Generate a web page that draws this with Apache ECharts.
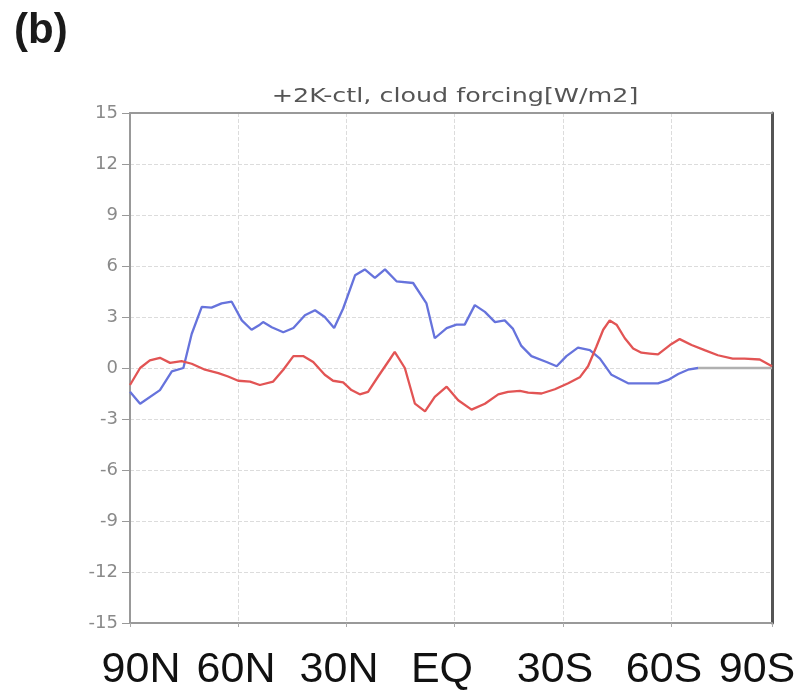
<!DOCTYPE html>
<html>
<head>
<meta charset="utf-8">
<script src="https://cdn.jsdelivr.net/npm/echarts@6/dist/echarts.min.js"></script>
<style>
  html, body { margin: 0; padding: 0; background: #fff; }
  #grafico { width: 795px; height: 692px; }
</style>
</head>
<body>
<div id="grafico"></div>
<script>
// dados (latitude, W/m2)
var latAzul = [90, 87.2, 81.7, 78.4, 75.2, 72.9, 70.1, 67.4, 64.6, 61.8, 59.0, 56.3, 54.0, 53.1, 50.7, 47.5, 44.7, 41.5, 38.7, 36.0, 33.4, 30.9, 27.6, 24.9, 22.1, 19.3, 16.1, 11.5, 7.8, 5.5, 2.2, -0.5, -2.8, -5.6, -8.4, -11.2, -13.9, -16.2, -18.5, -21.3, -25.5, -28.3, -31.0, -34.2, -37.5, -40.3, -43.5, -48.1, -54.1, -56.4, -59.2, -62.0, -64.7, -67.5];
var valAzul = [-1.4, -2.1, -1.3, -0.2, 0.0, 2.0, 3.6, 3.55, 3.8, 3.9, 2.8, 2.25, 2.55, 2.7, 2.4, 2.1, 2.35, 3.1, 3.4, 3.0, 2.35, 3.5, 5.45, 5.8, 5.3, 5.8, 5.1, 5.0, 3.8, 1.75, 2.35, 2.55, 2.55, 3.7, 3.3, 2.7, 2.8, 2.3, 1.3, 0.7, 0.35, 0.1, 0.7, 1.2, 1.05, 0.55, -0.4, -0.9, -0.9, -0.9, -0.7, -0.35, -0.1, 0.0];

var latVermelho = [90, 87.2, 84.5, 81.7, 78.9, 75.7, 72.9, 69.2, 65.5, 62.8, 60.0, 56.7, 54.0, 50.3, 47.5, 44.7, 42.0, 39.2, 36.0, 33.7, 30.9, 28.6, 26.3, 24.0, 21.2, 18.0, 16.6, 13.8, 11.0, 8.2, 5.5, 2.2, -1.0, -4.7, -8.4, -12.1, -14.8, -18.1, -20.4, -24.1, -27.8, -31.5, -34.7, -37.0, -39.3, -41.2, -43.0, -44.9, -47.2, -49.5, -51.8, -54.1, -56.4, -59.7, -62.4, -65.7, -69.3, -73.0, -77.1, -80.4, -84.6, -88];
var valVermelho = [-1.0, 0.0, 0.45, 0.6, 0.3, 0.4, 0.25, -0.1, -0.3, -0.5, -0.75, -0.8, -1.0, -0.8, -0.1, 0.7, 0.7, 0.35, -0.4, -0.75, -0.85, -1.3, -1.55, -1.4, -0.5, 0.5, 0.95, 0.0, -2.1, -2.55, -1.7, -1.1, -1.9, -2.45, -2.1, -1.55, -1.4, -1.35, -1.45, -1.5, -1.25, -0.9, -0.55, 0.1, 1.25, 2.25, 2.8, 2.55, 1.75, 1.15, 0.9, 0.85, 0.8, 1.35, 1.7, 1.35, 1.05, 0.75, 0.55, 0.55, 0.5, 0.1];

// trecho cinza (azul sem dados, zero)
var latCinza = [-67.5, -88];
var valCinza = [0, 0];

var ticksY = [-15, -12, -9, -6, -3, 0, 3, 6, 9, 12, 15];
var rotulosX = ["90N", "60N", "30N", "EQ", "30S", "60S", "90S"];
var centrosRotulos = [141, 236, 339, 442, 555, 664, 757];

function pares(lats, vals) {
    return lats.map((lat, i) => [lat, vals[i]]);
}

var corGrade = "#dcdcdc";

var textosBaixo = rotulosX.map((txt, i) => ({
    type: "text",
    x: centrosRotulos[i],
    y: 670,
    style: {
        text: txt,
        fontSize: 43,
        fontFamily: "Liberation Sans",
        fill: "#111",
        textAlign: "center",
        textVerticalAlign: "middle"
    }
}));

var option = {
    animation: false,
    backgroundColor: "#fff",
    grid: {
        left: 130,
        right: 23,
        top: 113,
        bottom: 69
    },
    xAxis: [
        {
            type: "value",
            inverse: true,
            min: -88,
            max: 90,
            splitNumber: 6,
            axisLine: { show: true, onZero: false, lineStyle: { color: "#999", width: 2 } },
            axisTick: { show: true, length: 4, lineStyle: { color: "#aaa" } },
            axisLabel: { show: false },
            splitLine: { show: true, lineStyle: { color: corGrade, type: "dashed", width: 1 } }
        },
        {
            type: "value",
            position: "top",
            inverse: true,
            min: -88,
            max: 90,
            axisLine: { show: true, onZero: false, lineStyle: { color: "#999", width: 2 } },
            axisTick: { show: false },
            axisLabel: { show: false },
            splitLine: { show: false }
        }
    ],
    yAxis: [
        {
            type: "value",
            min: -15,
            max: 15,
            interval: 3,
            axisLine: { show: true, onZero: false, lineStyle: { color: "#999", width: 2 } },
            axisTick: { show: true, length: 8, lineStyle: { color: "#999" } },
            axisLabel: {
                color: "#8a8a8a",
                fontSize: 18,
                margin: 12,
                fontFamily: "DejaVu Sans",
                formatter: v => ticksY.indexOf(v) >= 0 ? String(v) : ""
            },
            splitLine: { show: true, lineStyle: { color: corGrade, type: "dashed", width: 1 } }
        },
        {
            type: "value",
            position: "right",
            min: -15,
            max: 15,
            axisLine: { show: true, onZero: false, lineStyle: { color: "#555", width: 3 } },
            axisTick: { show: false },
            axisLabel: { show: false },
            splitLine: { show: false }
        }
    ],
    series: [
        {
            name: "cinza",
            type: "line",
            data: pares(latCinza, valCinza),
            showSymbol: false,
            lineStyle: { color: "#b0b0b0", width: 2.3 },
            z: 2
        },
        {
            name: "azul",
            type: "line",
            data: pares(latAzul, valAzul),
            showSymbol: false,
            lineStyle: { color: "#6673dc", width: 2.3 },
            z: 3
        },
        {
            name: "vermelho",
            type: "line",
            data: pares(latVermelho, valVermelho),
            showSymbol: false,
            lineStyle: { color: "#e25454", width: 2.3 },
            z: 4
        }
    ],
    graphic: [
        {
            type: "text",
            x: 14,
            y: 10,
            style: {
                text: "(b)",
                fontSize: 42,
                fontWeight: "bold",
                fontFamily: "Liberation Sans",
                fill: "#1a1a1a"
            }
        },
        {
            // titulo (fonte alargada como no GrADS)
            type: "text",
            x: 455,
            y: 97,
            scaleX: 1.27,
            style: {
                text: "+2K-ctl, cloud forcing[W/m2]",
                fontSize: 20,
                fontFamily: "DejaVu Sans",
                fill: "#555",
                textAlign: "center",
                textVerticalAlign: "middle"
            }
        }
    ].concat(textosBaixo)
};

var myChart = echarts.init(document.getElementById("grafico"));
myChart.setOption(option);
</script>
</body>
</html>
